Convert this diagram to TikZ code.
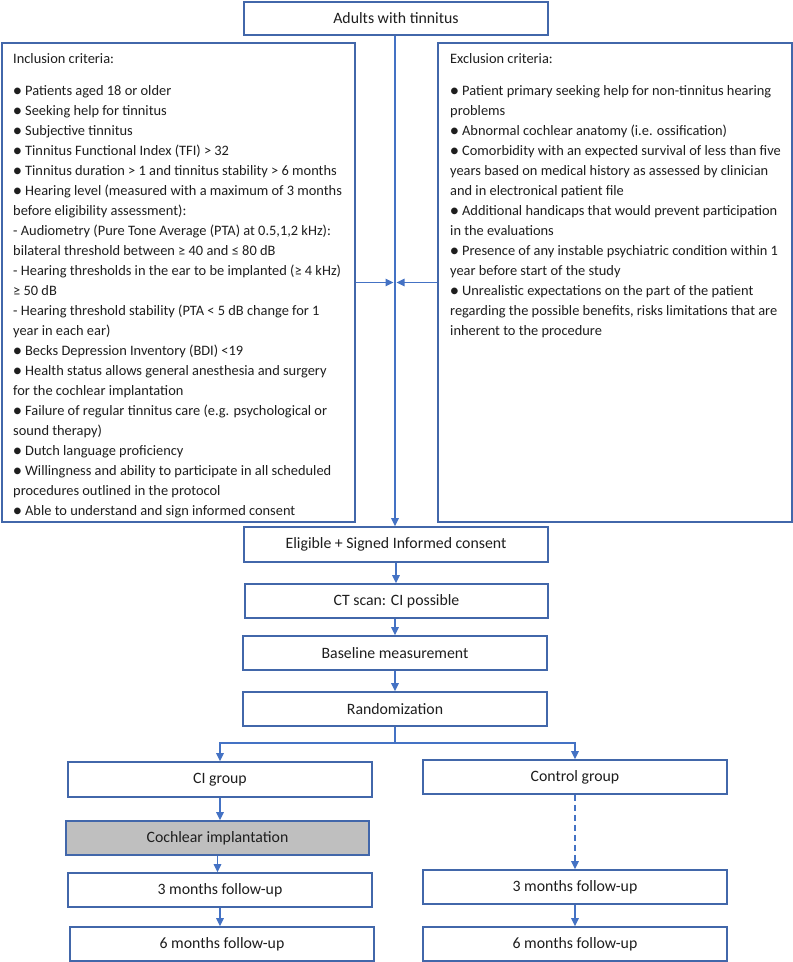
\documentclass[tikz,border=0pt]{standalone}
\usepackage{fontspec}
\setmainfont{Carlito}
\usetikzlibrary{arrows.meta}
\definecolor{boxc}{RGB}{66,103,170}
\definecolor{arrc}{RGB}{68,114,196}
\definecolor{txtc}{RGB}{30,30,30}
\definecolor{implc}{RGB}{191,191,191}
\tikzset{
  box/.style={draw=boxc, line width=1.6pt, fill=white, inner sep=0pt, text=txtc, font=\fontsize{15.8}{18}\selectfont},
  listtxt/.style={inner sep=0pt, anchor=north west, align=left, text=txtc, font=\fontsize{14.4}{20}\selectfont},
  arr/.style={draw=arrc, line width=1.4pt, -{Triangle[length=8pt,width=7.5pt]}},
}
\begin{document}
\begin{tikzpicture}[x=1pt,y=-1pt]
\useasboundingbox (0,0) rectangle (793,962);
% boxes
\node[box, minimum width=304, minimum height=33] (top) at (396,18.5) {Adults with tinnitus};
\node[box, minimum width=353, minimum height=479] (incl) at (178.5,282.5) {};
\node[box, minimum width=354, minimum height=479] (excl) at (615,282.5) {};
\node[box, minimum width=304, minimum height=35] (elig) at (396,544.5) {Eligible + Signed Informed consent};
\node[box, minimum width=303, minimum height=34] (ct) at (396.5,601) {CT scan: CI possible};
\node[box, minimum width=304, minimum height=34] (base) at (395,653) {Baseline measurement};
\node[box, minimum width=304, minimum height=34] (rand) at (395,709) {Randomization};
\node[box, minimum width=304, minimum height=35] (ci) at (220,779.5) {CI group};
\node[box, minimum width=303, minimum height=34, fill=implc] (impl) at (217.5,838) {Cochlear implantation};
\node[box, minimum width=304, minimum height=34] (ciA) at (220,890) {3 months follow-up};
\node[box, minimum width=304, minimum height=34] (ciB) at (222,944) {6 months follow-up};
\node[box, minimum width=304, minimum height=34] (ctrl) at (575,777) {Control group};
\node[box, minimum width=304, minimum height=34] (ctA) at (575,887) {3 months follow-up};
\node[box, minimum width=304, minimum height=34] (ctB) at (575,944) {6 months follow-up};
% texts
\node[listtxt] (inclt) at (13,53) {Inclusion criteria:\\[12pt]
● Patients aged 18 or older\\
● Seeking help for tinnitus\\
● Subjective tinnitus\\
● Tinnitus Functional Index (TFI) > 32\\
● Tinnitus duration > 1 and tinnitus stability > 6 months\\
● Hearing level (measured with a maximum of 3 months\\
before eligibility assessment):\\
- Audiometry (Pure Tone Average (PTA) at 0.5,1,2 kHz):\\
bilateral threshold between ≥ 40 and ≤ 80 dB\\
- Hearing thresholds in the ear to be implanted (≥ 4 kHz)\\
≥ 50 dB\\
- Hearing threshold stability (PTA < 5 dB change for 1\\
year in each ear)\\
● Becks Depression Inventory (BDI) <19\\
● Health status allows general anesthesia and surgery\\
for the cochlear implantation\\
● Failure of regular tinnitus care (e.g. psychological or\\
sound therapy)\\
● Dutch language proficiency\\
● Willingness and ability to participate in all scheduled\\
procedures outlined in the protocol\\
● Able to understand and sign informed consent};
\node[listtxt] (exclt) at (450,53) {Exclusion criteria:\\[12pt]
● Patient primary seeking help for non-tinnitus hearing\\
problems\\
● Abnormal cochlear anatomy (i.e. ossification)\\
● Comorbidity with an expected survival of less than five\\
years based on medical history as assessed by clinician\\
and in electronical patient file\\
● Additional handicaps that would prevent participation\\
in the evaluations\\
● Presence of any instable psychiatric condition within 1\\
year before start of the study\\
● Unrealistic expectations on the part of the patient\\
regarding the possible benefits, risks limitations that are\\
inherent to the procedure};
% connectors
\coordinate (mid) at (395,282.5);
\coordinate (split) at (395,743);
\draw[arr] (top.south -| mid) -- (elig.north -| mid);
\draw[arr, shorten >=1.5pt] (incl.east) -- (mid);
\draw[arr, shorten >=1.5pt] (excl.west) -- (mid);
\draw[arr] (elig.south) -- (ct.north -| elig.south);
\draw[arr] (ct.south -| base.south) -- (base.north);
\draw[arr] (base.south) -- (rand.north);
\draw[arr] (rand.south) -- (split) -| (ci.north);
\draw[arr] (split) -| (ctrl.north);
\draw[arr] (ci.south) -- (impl.north -| ci.south);
\draw[arr] (impl.south) -- (ciA.north -| impl.south);
\draw[arr] (ciA.south) -- (ciB.north -| ciA.south);
\draw[arr, dash pattern=on 6pt off 4pt] (ctrl.south) -- (ctA.north);
\draw[arr] (ctA.south) -- (ctB.north);
\end{tikzpicture}
\end{document}
